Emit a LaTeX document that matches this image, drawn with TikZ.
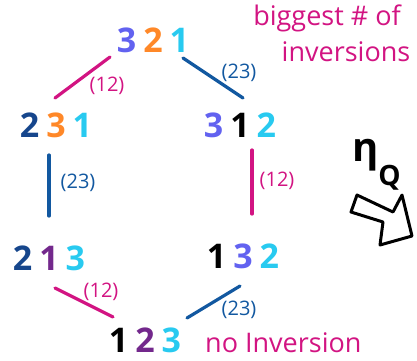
\documentclass[tikz,border=0pt]{standalone}
\usepackage{fontspec}
\setmainfont{Open Sans}
\usetikzlibrary{positioning}
\definecolor{permblue}{RGB}{98,98,240}
\definecolor{permorange}{RGB}{255,136,40}
\definecolor{permcyan}{RGB}{40,202,240}
\definecolor{permnavy}{RGB}{22,70,140}
\definecolor{permpurple}{RGB}{115,40,140}
\definecolor{swappink}{RGB}{210,20,130}
\definecolor{swapblue}{RGB}{18,88,160}
\newcommand{\dg}[2]{\textcolor{#1}{#2}}
\newcommand{\gp}{\hspace{7pt}}

\begin{document}
\begin{tikzpicture}[
  x=1pt, y=-1pt,
  perm/.style={font=\fontsize{34}{34}\selectfont\bfseries, inner sep=1pt},
  swap/.style={line width=3.2pt, line cap=round},
  swaplbl/.style={font=\fontsize{20}{20}\selectfont, inner sep=0pt},
  note/.style={font=\fontsize{27}{27}\selectfont, text=swappink, inner sep=0pt}
]
\useasboundingbox (0,0) rectangle (417,360);

% permutations
\node[perm] (p321) at (153,40)
  {\dg{permblue}{3}\gp\dg{permorange}{2}\gp\dg{permcyan}{1}};
\node[perm] (p231) at (56,125)
  {\dg{permnavy}{2}\gp\dg{permorange}{3}\gp\dg{permcyan}{1}};
\node[perm] (p312) at (240,125)
  {\dg{permblue}{3}\gp\dg{black}{1}\gp\dg{permcyan}{2}};
\node[perm] (p213) at (49,258)
  {\dg{permnavy}{2}\gp\dg{permpurple}{1}\gp\dg{permcyan}{3}};
\node[perm] (p132) at (243,256)
  {\dg{black}{1}\gp\dg{permblue}{3}\gp\dg{permcyan}{2}};
\node[perm] (p123) at (145,340)
  {\dg{black}{1}\gp\dg{permpurple}{2}\gp\dg{permcyan}{3}};

% transpositions
\draw[swap, swappink] ([shift={(-1,-27)}]p231.center) -- ([shift={(-43,17)}]p321.center);
\draw[swap, swapblue] ([shift={(30,18)}]p321.center) -- ([shift={(3,-27)}]p312.center);
\draw[swap, swapblue] ([shift={(-7,30)}]p231.center) -- ([shift={(0,-42)}]p213.center);
\draw[swap, swappink] ([shift={(12,25)}]p312.center) -- ([shift={(9,-42)}]p132.center);
\draw[swap, swappink] ([shift={(6,30)}]p213.center) -- ([shift={(-32,-23)}]p123.center);
\draw[swap, swapblue] ([shift={(-3,30)}]p132.center) -- ([shift={(42,-22)}]p123.center);

\node[swaplbl, text=swappink] (l1) at (107,86) {(12)};
\node[swaplbl, text=swapblue] (l2) at (239,73) {(23)};
\node[swaplbl, text=swapblue] (l3) at (78,183) {(23)};
\node[swaplbl, text=swappink] (l4) at (277,181) {(12)};
\node[swaplbl, text=swappink] (l5) at (101,292) {(12)};
\node[swaplbl, text=swapblue] (l6) at (239,310) {(23)};

% notes
\node[note] (top) at (327,18) {biggest \# of};
\node[note] (topb) at (346,52) {inversions};
\node[note, anchor=west] (bot) at (205,343) {no Inversion};

% eta_Q with arrow
\node[font=\fontsize{40}{40}\selectfont\bfseries, inner sep=0pt, anchor=base west] (eta)
  at (352,161) {η\raisebox{-24pt}{\fontsize{28}{28}\selectfont Q}};
\draw[line width=3pt, line join=round]
  (357,195) -- (393,212) -- (402,195) -- (412,236) -- (380,245) -- (383,222) -- (351,212) -- cycle;
\end{tikzpicture}
\end{document}
